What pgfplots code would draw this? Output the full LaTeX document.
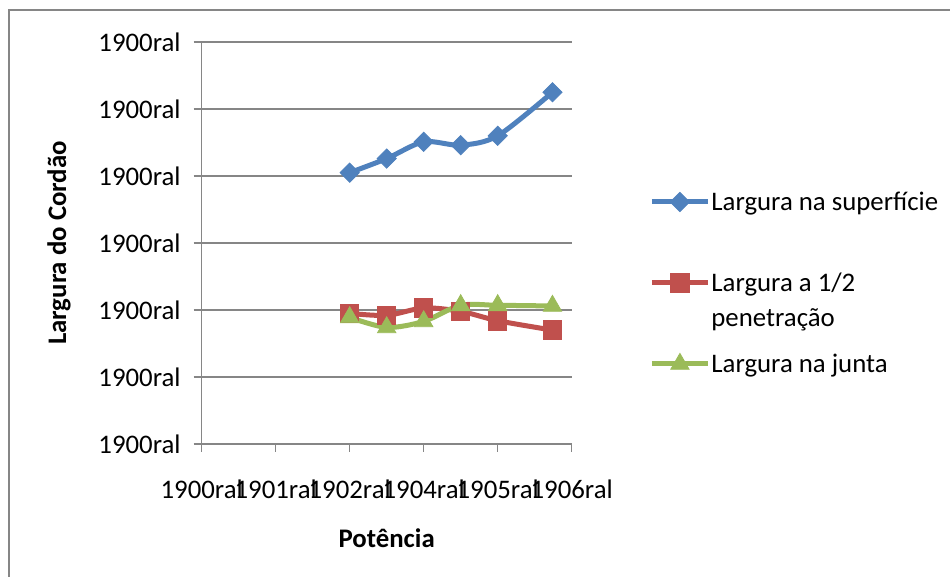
\documentclass[border=0pt]{standalone}
\usepackage{pgfplots}
\pgfplotsset{compat=1.18}
\usepackage{fontspec}
\setmainfont{Carlito}
\definecolor{serblue}{HTML}{4F81BD}
\definecolor{serred}{HTML}{C0504D}
\definecolor{sergreen}{HTML}{9BBB59}
\definecolor{axgray}{HTML}{868686}
\newcommand{\lgstrut}{\rule[-3.5pt]{0pt}{13.5pt}}

\begin{document}
\begin{tikzpicture}[font=\fontsize{13.4}{16}\selectfont]
\useasboundingbox (0,0) rectangle (475pt,288.5pt);
% chart area frame (top and left edges)
\draw[axgray, line width=0.75pt] (4.5pt,-5pt) -- (4.5pt,283.5pt) -- (480pt,283.5pt);
\begin{axis}[
  at={(100.85pt,66.5pt)}, anchor=south west,
  scale only axis, width=185pt, height=201pt,
  xmin=0, xmax=2500, ymin=0, ymax=6,
  axis x line*=bottom, axis y line*=left,
  axis line style={axgray, line width=0.75pt, -},
  xtick={0,500,...,2500},
  xticklabels={1900ral,1901ral,1902ral,1904ral,1905ral,1906ral},
  ytick={0,1,...,6},
  yticklabel={1900ral},
  tick align=outside, major tick length=4pt,
  tick style={axgray, line width=0.75pt},
  ymajorgrids, grid style={axgray, line width=0.75pt},
  xticklabel style={anchor=base, inner sep=0pt, yshift=-23.2pt},
  yticklabel style={anchor=east, inner sep=0pt, xshift=-6.35pt},
  xlabel={Potência}, ylabel={Largura do Cordão},
  label style={font=\fontsize{13.4}{16}\selectfont\bfseries},
  xlabel style={at={(axis description cs:0.5,-0.234)}, anchor=center},
  ylabel style={at={(axis description cs:-0.386,0.5)}, anchor=center},
  legend style={at={(1.209,0.4005)}, anchor=west, draw=none, fill=none,
    inner sep=0pt, row sep=29pt, column sep=0.5pt, nodes={inner sep=0pt}},
  legend cell align=left,
  legend image code/.code={\draw[mark repeat=2, mark phase=2, #1]
    plot coordinates {(0pt,0pt) (14pt,0pt) (28pt,0pt)};},
  every axis plot/.append style={smooth, tension=0.5, line width=2.5pt},
]
\addplot[serblue, mark=square*, mark size=3.4pt,
  mark options={rotate=45, line width=0.4pt, fill=serblue}]
  coordinates {(1000,4.05) (1250,4.26) (1500,4.51) (1750,4.46) (2000,4.60) (2370,5.25)};
\addlegendentry{\lgstrut Largura na superfície}
\addplot[serred, mark=square*, mark size=4.6pt,
  mark options={line width=0.4pt, fill=serred}]
  coordinates {(1000,1.95) (1250,1.92) (1500,2.03) (1750,1.98) (2000,1.84) (2370,1.70)};
\addlegendentry{\lgstrut\smash{\begin{tabular}[t]{@{}l@{}}Largura a 1/2\\[1.5pt]penetração\end{tabular}}}
\addplot[sergreen, mark=triangle*, mark size=5.3pt,
  mark options={line width=0.4pt, fill=sergreen}]
  coordinates {(1000,1.89) (1250,1.74) (1500,1.83) (1750,2.07) (2000,2.07) (2370,2.06)};
\addlegendentry{\lgstrut Largura na junta}
\end{axis}
\end{tikzpicture}
\end{document}
